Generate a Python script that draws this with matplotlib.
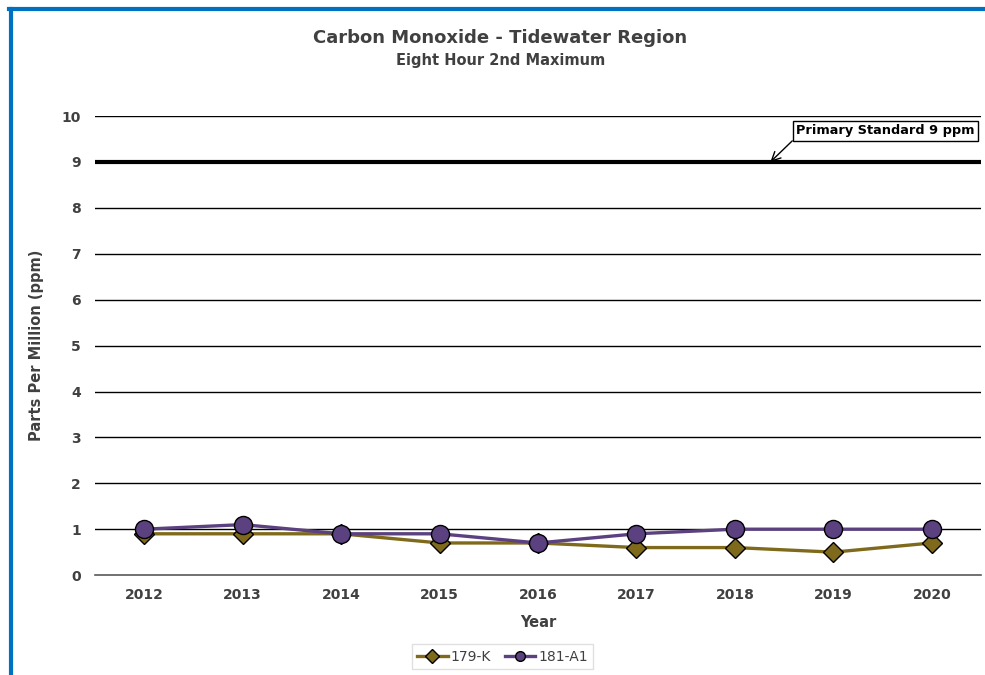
import matplotlib.pyplot as plt
from matplotlib.lines import Line2D

# data
years = ['2012', '2013', '2014', '2015', '2016', '2017', '2018', '2019', '2020']
site_179k = [0.9, 0.9, 0.9, 0.7, 0.7, 0.6, 0.6, 0.5, 0.7]
site_181a1 = [1.0, 1.1, 0.9, 0.9, 0.7, 0.9, 1.0, 1.0, 1.0]
standard = 9
y_ticks = list(range(0, 11))

txt = '#404040'
olive = '#7F6A1C'
purple = '#5B417F'

plt.rcParams['font.family'] = ['DejaVu Sans']

fig = plt.figure(figsize=(9.85, 6.75), dpi=100)
ax = fig.add_axes([0.0964, 0.148, 0.8996, 0.680])

x = list(range(len(years)))

# grid lines
for v in y_ticks:
    if v == 0:
        continue
    ax.axhline(v, color='black', lw=1, zorder=1)
ax.axhline(standard, color='black', lw=3, zorder=2)

ax.plot(x, site_179k, color=olive, lw=2.4, marker='D', ms=10,
        mfc=olive, mec='black', mew=1, zorder=3, label='179-K')
ax.plot(x, site_181a1, color=purple, lw=2.4, marker='o', ms=13,
        mfc=purple, mec='black', mew=1, zorder=4, label='181-A1')

ax.set_xlim(-0.5, len(years) - 0.5)
ax.set_ylim(0, 10)
ax.set_xticks(x)
ax.set_xticklabels(years)
ax.set_yticks(y_ticks)
ax.tick_params(length=0, labelsize=10, colors=txt)
ax.tick_params(axis='y', pad=10)
ax.tick_params(axis='x', pad=9)
for lab in ax.get_xticklabels() + ax.get_yticklabels():
    lab.set_fontweight('bold')

for s in ['top', 'right', 'left']:
    ax.spines[s].set_visible(False)
ax.spines['bottom'].set_color('#595959')
ax.spines['bottom'].set_linewidth(1.2)

ax.set_xlabel('Year', fontsize=10.5, fontweight='bold', color=txt, labelpad=10)
ax.set_ylabel('Parts Per Million (ppm)', fontsize=10.5, fontweight='bold', color=txt)
ax.yaxis.set_label_coords(-0.057, 0.5)

ax.annotate('Primary Standard 9 ppm', xy=(6.36, standard), xytext=(6.62, 9.68),
            fontsize=9.3, fontweight='bold', color='black', va='center', ha='left',
            bbox=dict(boxstyle='square,pad=0.25', fc='white', ec='black', lw=1),
            arrowprops=dict(arrowstyle='->', color='black', lw=1, relpos=(0, 0),
                            shrinkA=0, shrinkB=0, mutation_scale=16),
            zorder=5)

fig.text(0.508, 0.943, 'Carbon Monoxide - Tidewater Region', ha='center', va='center',
         fontsize=13, fontweight='bold', color=txt)
fig.text(0.508, 0.910, 'Eight Hour 2nd Maximum', ha='center', va='center',
         fontsize=10.5, fontweight='bold', color=txt)

leg = fig.legend(loc='center', bbox_to_anchor=(0.510, 0.027), ncol=2, frameon=True,
                 fontsize=10, handlelength=2.2, handletextpad=0.2, columnspacing=1.0,
                 borderpad=0.4, fancybox=False, edgecolor='#D9D9D9')
for t in leg.get_texts():
    t.set_color(txt)
for h in leg.legend_handles:
    h.set_markersize(7)

# blue frame on the left and top
fig.add_artist(Line2D([0.0107, 0.0107], [0, 0.987], color='#0070C0', lw=3,
                      transform=fig.transFigure))
fig.add_artist(Line2D([0.0092, 1.0], [0.987, 0.987], color='#0070C0', lw=3,
                      transform=fig.transFigure))

fig.savefig('out.png', dpi=100)
